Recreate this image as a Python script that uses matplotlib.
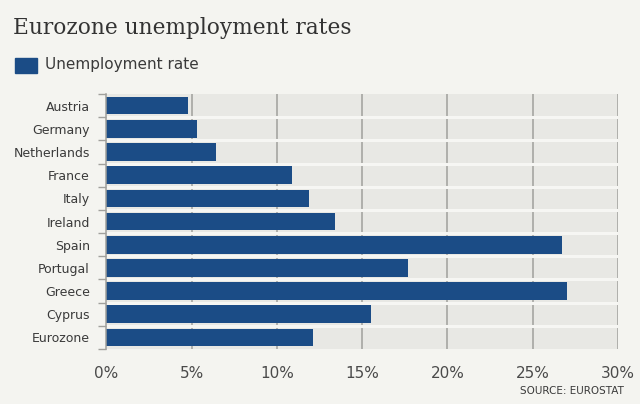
import numpy as np
import matplotlib.pyplot as plt

countries = ["Austria", "Germany", "Netherlands", "France", "Italy", "Ireland",
             "Spain", "Portugal", "Greece", "Cyprus", "Eurozone"]
rates = [4.8, 5.3, 6.4, 10.9, 11.9, 13.4, 26.7, 17.7, 27.0, 15.5, 12.1]
xticks = [0, 5, 10, 15, 20, 25, 30]

BG = "#f4f4f0"
PLOT_BG = "#e8e8e4"
BAR = "#1b4c86"
TXT = "#3a3a3a"

fig = plt.figure(figsize=(6.4, 4.04), dpi=100, facecolor=BG)
ax = fig.add_axes([0.1664, 0.1361, 0.7992, 0.6312], facecolor=PLOT_BG)

y = np.arange(len(countries))
ax.set_xlim(0, 30)
ax.set_ylim(len(countries) - 0.5, -0.5)

# vertical gridlines
for v in xticks[1:]:
    ax.axvline(v, color="#a0a09c", lw=1.1, zorder=1)
# light separators between rows
for b in np.arange(len(countries) - 1) + 0.5:
    ax.axhline(b, color="#f6f6f3", lw=2.2, zorder=1)

ax.barh(y, rates, height=0.76, color=BAR, zorder=2)

for s in ["top", "right", "bottom"]:
    ax.spines[s].set_visible(False)
ax.spines["left"].set_color("#a0a09c")
ax.spines["left"].set_linewidth(1.1)

ax.set_yticks(y)
ax.set_yticklabels(countries, fontsize=9, color=TXT)
ax.tick_params(axis="y", which="major", length=0, pad=12)
ax.set_yticks(np.arange(len(countries) + 1) - 0.5, minor=True)
ax.tick_params(axis="y", which="minor", length=6, color="#a0a09c", width=1)

ax.set_xticks(xticks)
ax.set_xticklabels(["{}%".format(v) for v in xticks], fontsize=11, color="#4a4a4a")
ax.tick_params(axis="x", length=0, pad=12)

fig.text(0.02, 0.93, "Eurozone unemployment rates", family="DejaVu Serif",
         fontsize=15.6, color="#333333", va="center", ha="left")
fig.patches.append(plt.Rectangle((15 / 640, 1 - 73 / 404), 22 / 640, 15 / 404,
                                 transform=fig.transFigure, color=BAR, figure=fig))
fig.text(45 / 640, 1 - 65 / 404, "Unemployment rate", fontsize=11, color=TXT,
         va="center", ha="left")
fig.text(624 / 640, 1 - 391 / 404, "SOURCE: EUROSTAT", fontsize=7.5, color=TXT,
         va="center", ha="right")

fig.savefig("out.png", dpi=100, facecolor=BG)
